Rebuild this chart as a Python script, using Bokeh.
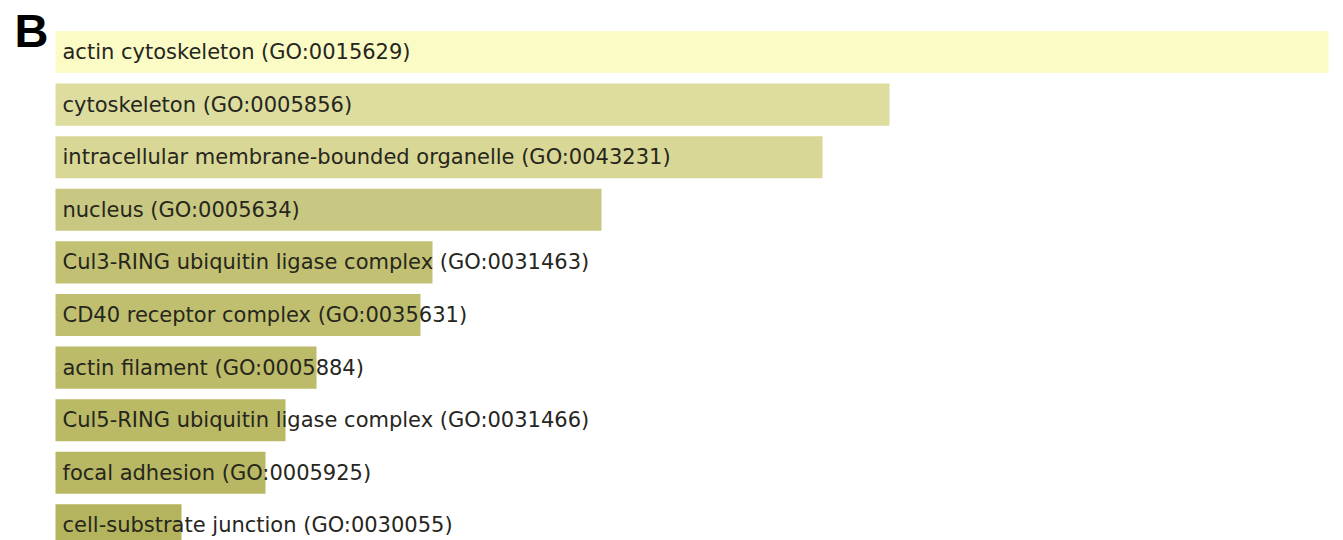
from bokeh.plotting import figure
from bokeh.models import ColumnDataSource, Range1d, Label
from bokeh.embed import file_html
from bokeh.resources import INLINE
from bokeh.core.properties import value

terms = [
    "actin cytoskeleton (GO:0015629)",
    "cytoskeleton (GO:0005856)",
    "intracellular membrane-bounded organelle (GO:0043231)",
    "nucleus (GO:0005634)",
    "Cul3-RING ubiquitin ligase complex (GO:0031463)",
    "CD40 receptor complex (GO:0035631)",
    "actin filament (GO:0005884)",
    "Cul5-RING ubiquitin ligase complex (GO:0031466)",
    "focal adhesion (GO:0005925)",
    "cell-substrate junction (GO:0030055)",
]
scores = [1273, 834, 767, 546, 377, 365, 261, 230, 210, 126]
colors = ["#FBFBC6", "#DEDDA0", "#D8D796", "#C9C882", "#C2C173",
          "#C0BF70", "#BCBB69", "#BAB966", "#B8B763", "#B5B45E"]
rank = list(range(len(terms)))

src = ColumnDataSource(dict(term=terms, score=scores, color=colors, rank=rank))

p = figure(width=1343, height=540, output_backend="svg", toolbar_location=None,
           x_range=Range1d(-55, 1288), y_range=Range1d(9.287, -0.979),
           min_border_left=0, min_border_right=0, min_border_top=0, min_border_bottom=0)
p.axis.visible = False
p.grid.visible = False
p.outline_line_color = None
p.background_fill_color = "white"
p.border_fill_color = "white"

p.hbar(y="rank", left=0, right="score", height=0.8, fill_color="color",
       line_color=None, source=src)
p.text(x=0, y="rank", text="term", x_offset=7, source=src,
       text_font=value("DejaVu Sans"), text_font_size="21px",
       text_color="#26261C", text_baseline="middle", text_align="left")

p.add_layout(Label(x=14, y=540 - 3, x_units="screen", y_units="screen", text="B",
                   text_font="Liberation Sans", text_font_size="47px",
                   text_font_style="bold", text_color="#000000",
                   text_baseline="top", text_align="left"))

open("out.html", "w").write(file_html(p, INLINE))
